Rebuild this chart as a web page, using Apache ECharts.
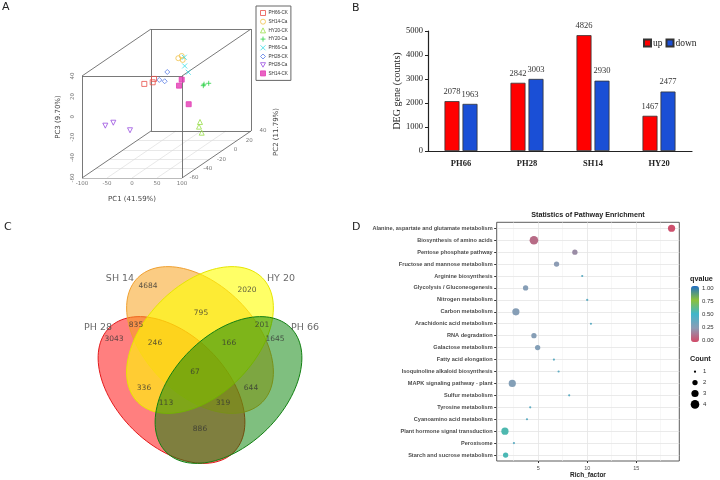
<!DOCTYPE html>
<html>
<head>
<meta charset="utf-8">
<script src="https://cdn.jsdelivr.net/npm/echarts@6/dist/echarts.min.js"></script>
<style>
  html, body { margin: 0; padding: 0; background: #fff; }
  #main { width: 720px; height: 480px; }
</style>
</head>
<body>
<div id="main"></div>
<script>
// ---------- A: PCA, three replicates per group ----------
const pcaGroups = ['PH66-CK', 'SH14-Ca', 'HY20-CK', 'HY20-Ca', 'PH66-Ca', 'PH28-CK', 'PH28-Ca', 'SH14-CK'];
const pcaPC1 = [
  [-44.4, -27.6, -25.0],
  [-17.8, -11.0, -9.0],
  [94.6, 92.6, 98.0],
  [73.6, 84.4, 75.0],
  [8.0, 8.8, 16.0],
  [1.6, -14.4, -3.6],
  [-67.2, -51.2, -17.8],
  [44.2, 38.8, 58.2]
];
const pcaPC2 = [
  [-10, -10, -10], [20, 20, 20], [-30, -30, -30], [-10, -10, -10],
  [10, 10, 10], [-10, -10, -10], [-50, -50, -50], [-20, -20, -20]
];
const pcaPC3 = [
  [9.2, 10.8, 14.1],
  [20.6, 22.8, 18.9],
  [-18.9, -23.5, -29.4],
  [7.5, 9.8, 8.9],
  [26.1, 17.6, 11.4],
  [20.9, 13.1, 11.8],
  [-13.3, -10.4, -17.8],
  [18.0, 12.1, -6.1]
];
const pc1Ticks = [-100, -50, 0, 50, 100];
const pc2Ticks = [-60, -40, -20, 0, 20, 40];
const pc3Ticks = [-60, -40, -20, 0, 20, 40];

// ---------- B: DEG counts ----------
const degCultivars = ['PH66', 'PH28', 'SH14', 'HY20'];
const degUp = [2078, 2842, 4826, 1467];
const degDown = [1963, 3003, 2930, 2477];

// ---------- C: Venn ----------
const vennSets = ['PH 28', 'SH 14', 'HY 20', 'PH 66'];
const vennRegions = ['SH14', 'HY20', 'SH14&HY20', 'PH28&SH14', 'HY20&PH66', 'PH28', 'PH28&SH14&HY20',
  'SH14&HY20&PH66', 'PH66', 'ALL', 'PH28&HY20', 'SH14&PH66', 'PH28&HY20&PH66', 'PH28&SH14&PH66', 'PH28&PH66'];
const vennCounts = [4684, 2020, 795, 835, 201, 3043, 246, 166, 1645, 67, 336, 644, 113, 319, 886];

// ---------- D: KEGG enrichment ----------
const pathways = [
  'Alanine, aspartate and glutamate metabolism', 'Biosynthesis of amino acids', 'Pentose phosphate pathway',
  'Fructose and mannose metabolism', 'Arginine biosynthesis', 'Glycolysis / Gluconeogenesis',
  'Nitrogen metabolism', 'Carbon metabolism', 'Arachidonic acid metabolism', 'RNA degradation',
  'Galactose metabolism', 'Fatty acid elongation', 'Isoquinoline alkaloid biosynthesis',
  'MAPK signaling pathway - plant', 'Sulfur metabolism', 'Tyrosine metabolism', 'Cyanoamino acid metabolism',
  'Plant hormone signal transduction', 'Peroxisome', 'Starch and sucrose metabolism'
];
const richFactor = [18.61, 4.56, 8.74, 6.87, 9.49, 3.71, 10.0, 2.72, 10.38, 4.56, 4.94, 6.6, 7.08, 2.35, 8.16, 4.18, 3.85, 1.6, 2.52, 1.67];
const qValue = [0.02, 0.1, 0.2, 0.25, 0.4, 0.27, 0.4, 0.27, 0.4, 0.27, 0.28, 0.4, 0.4, 0.28, 0.4, 0.4, 0.4, 0.55, 0.4, 0.54];
const geneCount = [3, 4, 2, 2, 1, 2, 1, 3, 1, 2, 2, 1, 1, 3, 1, 1, 1, 3, 1, 2];
const countLevels = [1, 2, 3, 4];
const qTicks = [0, 0.25, 0.5, 0.75, 1];
const richTicks = [5, 10, 15];

// ---------- layout / styles ----------
const chart = echarts.init(document.getElementById('main'));

// oblique projection of PC2 onto the PC1/PC3 plane
const SHEAR_X = 1.38, SHEAR_Y = 0.4608;
function proj(p1, p2, p3) {
  return [p1 + SHEAR_X * (p2 - pc2Ticks[0]), p3 + SHEAR_Y * (p2 - pc2Ticks[0])];
}
const r1 = [pc1Ticks[0], pc1Ticks[pc1Ticks.length - 1]];
const r2 = [pc2Ticks[0], pc2Ticks[pc2Ticks.length - 1]];
const r3 = [pc3Ticks[0], pc3Ticks[pc3Ticks.length - 1]];

const boxEdges = [];
r2.forEach(a => r3.forEach(b => boxEdges.push([proj(r1[0], a, b), proj(r1[1], a, b)])));
r1.forEach(a => r3.forEach(b => boxEdges.push([proj(a, r2[0], b), proj(a, r2[1], b)])));
r1.forEach(a => r2.forEach(b => boxEdges.push([proj(a, b, r3[0]), proj(a, b, r3[1])])));
const floorLines = [];
pc1Ticks.slice(1, -1).forEach(t => floorLines.push([proj(t, r2[0], r3[0]), proj(t, r2[1], r3[0])]));
pc2Ticks.slice(1, -1).forEach(t => floorLines.push([proj(r1[0], t, r3[0]), proj(r1[1], t, r3[0])]));

const plusPath = 'path://M5,0L5,10M0,5L10,5';
const crossPath = 'path://M0,0L10,10M10,0L0,10';
const downTriPath = 'path://M0,0L10,0L5,9Z';
const pcaStyle = {
  'PH66-CK': { symbol: 'rect', color: '#e8504a', open: true },
  'SH14-Ca': { symbol: 'circle', color: '#f0c24a', open: true },
  'HY20-CK': { symbol: 'triangle', color: '#98df4a', open: true },
  'HY20-Ca': { symbol: plusPath, color: '#2fd24a', open: true },
  'PH66-Ca': { symbol: crossPath, color: '#38dde6', open: true },
  'PH28-CK': { symbol: 'diamond', color: '#5a7de6', open: true },
  'PH28-Ca': { symbol: downTriPath, color: '#9a4fe0', open: true },
  'SH14-CK': { symbol: 'rect', color: '#e43cb4', open: false }
};
function pcaItemStyle(g) {
  const st = pcaStyle[g];
  return { color: st.open ? 'rgba(255,255,255,0)' : st.color, borderColor: st.color, borderWidth: 1 };
}

const pcaSeries = pcaGroups.map((g, gi) => {
  const st = pcaStyle[g];
  return {
    type: 'scatter', name: g, xAxisIndex: 0, yAxisIndex: 0, z: 5,
    symbol: st.symbol, symbolSize: 5,
    itemStyle: pcaItemStyle(g),
    data: pcaPC1[gi].map((v, i) => proj(v, pcaPC2[gi][i], pcaPC3[gi][i]))
  };
});

const tickFont = { fontSize: 5.5, color: '#555', fontFamily: 'DejaVu Sans' };

// Venn geometry
const vennLayout = [
  { cx: 171.5, cy: 150, a: 88, b: 55, rot: 45, fill: 'rgba(255,0,0,0.5)', stroke: '#e31a1c' },
  { cx: 200, cy: 100, a: 88, b: 55, rot: 45, fill: 'rgba(248,162,30,0.55)', stroke: '#f0a030' },
  { cx: 200, cy: 100, a: 88, b: 55, rot: -45, fill: 'rgba(255,255,0,0.6)', stroke: '#e6e600' },
  { cx: 228.5, cy: 150, a: 88, b: 55, rot: -45, fill: 'rgba(0,128,0,0.5)', stroke: '#128012' }
];
const vennSetLabelPos = [[98, 88], [120, 39], [281, 39], [305, 88]];
const vennCountPos = [[148, 46], [247, 50], [201, 73], [136, 85], [262, 85], [114, 99], [155, 103],
  [229, 103], [275, 99], [195, 132], [144, 148], [251, 148], [166, 163], [223, 163], [200, 189]];

// enrichment symbol size by gene count
function countSize(c) { return [0, 2.2, 5.3, 7.2, 8.6][c]; }

const grayText = '#4d4d4d';

const series = [
  ...pcaSeries,
  {
    type: 'lines', coordinateSystem: 'cartesian2d', xAxisIndex: 0, yAxisIndex: 0, silent: true, z: 1,
    lineStyle: { color: '#d8d8d8', width: 0.6, opacity: 1 },
    data: floorLines.map(c => ({ coords: c }))
  },
  {
    type: 'lines', coordinateSystem: 'cartesian2d', xAxisIndex: 0, yAxisIndex: 0, silent: true, z: 2,
    lineStyle: { color: '#6a6a6a', width: 0.9, opacity: 1 },
    data: boxEdges.map(c => ({ coords: c }))
  },
  {
    type: 'scatter', xAxisIndex: 0, yAxisIndex: 0, symbolSize: 0, silent: true, clip: false,
    data: pc1Ticks.map(t => proj(t, r2[0], r3[0]).concat([t])),
    label: { show: true, position: 'inside', offset: [0, 6], formatter: p => p.value[2], ...tickFont }
  },
  {
    type: 'scatter', xAxisIndex: 0, yAxisIndex: 0, symbolSize: 0, silent: true, clip: false,
    data: pc2Ticks.map(t => proj(r1[1], t, r3[0]).concat([t])),
    label: { show: true, position: 'inside', offset: [12, 0], formatter: p => p.value[2], ...tickFont }
  },
  {
    type: 'scatter', xAxisIndex: 0, yAxisIndex: 0, symbolSize: 0, silent: true, clip: false,
    data: pc3Ticks.map(t => { const p = proj(r1[0], r2[0], t); return [p[0] - 18, p[1], t]; }),
    label: { show: true, position: 'inside', rotate: 90, formatter: p => p.value[2], ...tickFont }
  },
  {
    type: 'bar', name: 'up', xAxisIndex: 1, yAxisIndex: 1, data: degUp,
    barWidth: 15, barGap: '20%',
    itemStyle: { color: '#ff0000', borderColor: '#333', borderWidth: 0.8 },
    label: { show: true, position: 'top', distance: 5, fontFamily: 'Liberation Serif', fontSize: 8.5, color: '#333' }
  },
  {
    type: 'bar', name: 'down', xAxisIndex: 1, yAxisIndex: 1, data: degDown,
    barWidth: 15,
    itemStyle: { color: '#1a4fd6', borderColor: '#333', borderWidth: 0.8 },
    label: { show: true, position: 'top', distance: 5, fontFamily: 'Liberation Serif', fontSize: 8.5, color: '#333' }
  },
  {
    type: 'custom', xAxisIndex: 2, yAxisIndex: 2, silent: true,
    data: vennLayout.map(e => [e.cx, e.cy]),
    renderItem: function (params, api) {
      const e = vennLayout[params.dataIndex];
      const th = e.rot * Math.PI / 180;
      const pts = [];
      for (let k = 0; k < 120; k++) {
        const t = k / 120 * Math.PI * 2;
        const x = e.cx + e.a * Math.cos(t) * Math.cos(th) - e.b * Math.sin(t) * Math.sin(th);
        const y = e.cy + e.a * Math.cos(t) * Math.sin(th) + e.b * Math.sin(t) * Math.cos(th);
        pts.push(api.coord([x, y]));
      }
      return { type: 'polygon', shape: { points: pts }, style: { fill: e.fill, stroke: e.stroke, lineWidth: 1 } };
    }
  },
  {
    type: 'scatter', xAxisIndex: 2, yAxisIndex: 2, symbolSize: 0, silent: true, z: 4,
    data: vennCounts.map((c, i) => vennCountPos[i].concat([c])),
    label: { show: true, position: 'inside', formatter: p => p.value[2], fontSize: 7.5, color: '#333', fontFamily: 'DejaVu Sans' }
  },
  {
    type: 'scatter', xAxisIndex: 2, yAxisIndex: 2, symbolSize: 0, silent: true, z: 4,
    data: vennSets.map((s, i) => ({ value: vennSetLabelPos[i], name: s })),
    label: { show: true, position: 'inside', formatter: p => p.name, fontSize: 9.5, color: '#444', fontFamily: 'DejaVu Sans' }
  },
  {
    type: 'scatter', xAxisIndex: 3, yAxisIndex: 3, symbolSize: 0, silent: true, z: 1,
    data: [],
    markLine: {
      silent: true, symbol: 'none', label: { show: false },
      data: [
        ...[2.5, 7.5, 12.5, 17.5].map(v => ({ xAxis: v, lineStyle: { color: '#f2f2f2', width: 0.6, type: 'solid' } })),
        ...richTicks.map(v => ({ xAxis: v, lineStyle: { color: '#e4e4e4', width: 0.8, type: 'solid' } })),
        ...pathways.map(p => ({ yAxis: p, lineStyle: { color: '#e4e4e4', width: 0.8, type: 'solid' } }))
      ]
    }
  },
  {
    type: 'scatter', id: 'enrich', xAxisIndex: 3, yAxisIndex: 3, z: 5,
    data: pathways.map((p, i) => [richFactor[i], p, qValue[i], geneCount[i]]),
    symbolSize: v => countSize(v[3]),
    itemStyle: { opacity: 1 }
  }
];
const enrichIndex = series.findIndex(s => s.id === 'enrich');

const option = {
  animation: false,
  backgroundColor: '#fff',
  grid: [
    { left: 82, top: 29, width: 169, height: 149 },
    { left: 428, top: 31, right: 28, bottom: 329 },
    { left: 0, top: 240, width: 360, height: 240 },
    { left: 496.7, top: 222.3, right: 40.7, bottom: 17.7, show: true, borderColor: '#333', borderWidth: 0.8 }
  ],
  xAxis: [
    { gridIndex: 0, type: 'value', min: r1[0], max: r1[1] + SHEAR_X * (r2[1] - r2[0]), show: false },
    {
      gridIndex: 1, type: 'category', data: degCultivars,
      axisLine: { lineStyle: { color: '#222', width: 1.2 } }, axisTick: { show: false },
      axisLabel: { fontFamily: 'Liberation Serif', fontSize: 8.5, fontWeight: 'bold', color: '#222', margin: 8 }
    },
    { gridIndex: 2, type: 'value', min: 0, max: 360, show: false },
    {
      gridIndex: 3, type: 'value', min: 0.76, max: 19.4,
      axisLine: { show: false }, splitLine: { show: false },
      axisTick: { show: true, length: 2, customValues: richTicks, lineStyle: { color: '#333' } },
      axisLabel: {
        fontSize: 5.5, color: grayText, margin: 4, customValues: richTicks,
        formatter: v => (v % 5 === 0 ? String(v) : '')
      },
      name: 'Rich_factor', nameLocation: 'middle', nameGap: 11,
      nameTextStyle: { fontSize: 6.5, fontWeight: 'bold', color: '#222' }
    }
  ],
  yAxis: [
    { gridIndex: 0, type: 'value', min: r3[0], max: r3[1] + SHEAR_Y * (r2[1] - r2[0]), show: false },
    {
      gridIndex: 1, type: 'value', min: 0, max: 5000, interval: 1000,
      axisLine: { show: true, lineStyle: { color: '#222', width: 1.2 } },
      axisTick: { show: true, length: 3, lineStyle: { color: '#222' } },
      splitLine: { show: false },
      axisLabel: { fontFamily: 'Liberation Serif', fontSize: 8.5, color: '#222', margin: 5, formatter: v => String(v) },
      name: 'DEG gene (counts)', nameLocation: 'middle', nameGap: 26,
      nameTextStyle: { fontFamily: 'Liberation Serif', fontSize: 10, color: '#222' }
    },
    { gridIndex: 2, type: 'value', min: 0, max: 240, inverse: true, show: false },
    {
      gridIndex: 3, type: 'category', data: pathways, inverse: true,
      axisLine: { show: false }, splitLine: { show: false },
      axisTick: { show: true, length: 2.5, alignWithLabel: true, lineStyle: { color: '#333' } },
      axisLabel: { fontSize: 5.6, color: grayText, margin: 4, fontWeight: 'bold' }
    }
  ],
  legend: [
    {
      data: pcaGroups.map(g => ({ name: g, itemStyle: pcaItemStyle(g) })),
      orient: 'vertical', left: 256, top: 6, selectedMode: false,
      itemWidth: 5, itemHeight: 5, itemGap: 2.7, padding: [4, 3, 4, 4],
      borderColor: '#666', borderWidth: 1,
      textStyle: { fontSize: 4.6, color: '#333', padding: [0, 0, 0, -2] }
    },
    {
      data: ['up', 'down'], left: 638, top: 33, selectedMode: false,
      itemWidth: 7, itemHeight: 7, itemGap: 3, icon: 'rect',
      textStyle: { fontFamily: 'Liberation Serif', fontSize: 9.5, color: '#222', padding: [0, 0, 0, -3] }
    }
  ],
  visualMap: [{
    type: 'continuous', seriesIndex: [enrichIndex], dimension: 2,
    min: 0, max: 1, calculable: false, text: null, show: true, padding: 0,
    left: 691, top: 286, itemWidth: 8, itemHeight: 56,
    inRange: { color: ['#d44a68', '#8c9cb4', '#3fb6cc', '#8cc03a', '#1f6ec6'] }
  }],
  series: series,
  graphic: [
    { type: 'text', left: 2, top: 2, style: { text: 'A', fontSize: 11, fill: '#222', fontFamily: 'DejaVu Sans' } },
    { type: 'text', left: 352, top: 3, style: { text: 'B', fontSize: 11, fill: '#222', fontFamily: 'DejaVu Sans' } },
    { type: 'text', left: 4, top: 222, style: { text: 'C', fontSize: 11, fill: '#222', fontFamily: 'DejaVu Sans' } },
    { type: 'text', left: 352, top: 222, style: { text: 'D', fontSize: 11, fill: '#222', fontFamily: 'DejaVu Sans' } },
    { type: 'text', x: 132, y: 199, style: { text: 'PC1 (41.59%)', fontSize: 7, fill: '#444', align: 'center', verticalAlign: 'middle', fontFamily: 'DejaVu Sans' } },
    { type: 'text', x: 58, y: 117, rotation: Math.PI / 2, style: { text: 'PC3 (9.70%)', fontSize: 7, fill: '#444', align: 'center', verticalAlign: 'middle', fontFamily: 'DejaVu Sans' } },
    { type: 'text', x: 276, y: 132, rotation: Math.PI / 2, style: { text: 'PC2 (11.79%)', fontSize: 7, fill: '#444', align: 'center', verticalAlign: 'middle', fontFamily: 'DejaVu Sans' } },
    { type: 'text', x: 588, y: 215, style: { text: 'Statistics of Pathway Enrichment', fontSize: 7.2, fontWeight: 'bold', fill: '#222', align: 'center', verticalAlign: 'middle' } },
    { type: 'text', x: 690, y: 279, style: { text: 'qvalue', fontSize: 7.2, fontWeight: 'bold', fill: '#222', verticalAlign: 'middle' } },
    { type: 'text', x: 690, y: 359, style: { text: 'Count', fontSize: 7.2, fontWeight: 'bold', fill: '#222', verticalAlign: 'middle' } },
    ...qTicks.map(q => ({
      type: 'text', x: 702, y: 340 - q * 51.3,
      style: { text: q.toFixed(2), fontSize: 6, fill: '#333', verticalAlign: 'middle' }
    })),
    ...countLevels.map((c, i) => ({
      type: 'circle', shape: { cx: 695, cy: 371.7 + i * 10.9, r: countSize(c) / 2 }, style: { fill: '#000' }
    })),
    ...countLevels.map((c, i) => ({
      type: 'text', x: 703, y: 371.7 + i * 10.9,
      style: { text: String(c), fontSize: 6, fill: '#333', verticalAlign: 'middle' }
    }))
  ]
};

chart.setOption(option);
</script>
</body>
</html>
